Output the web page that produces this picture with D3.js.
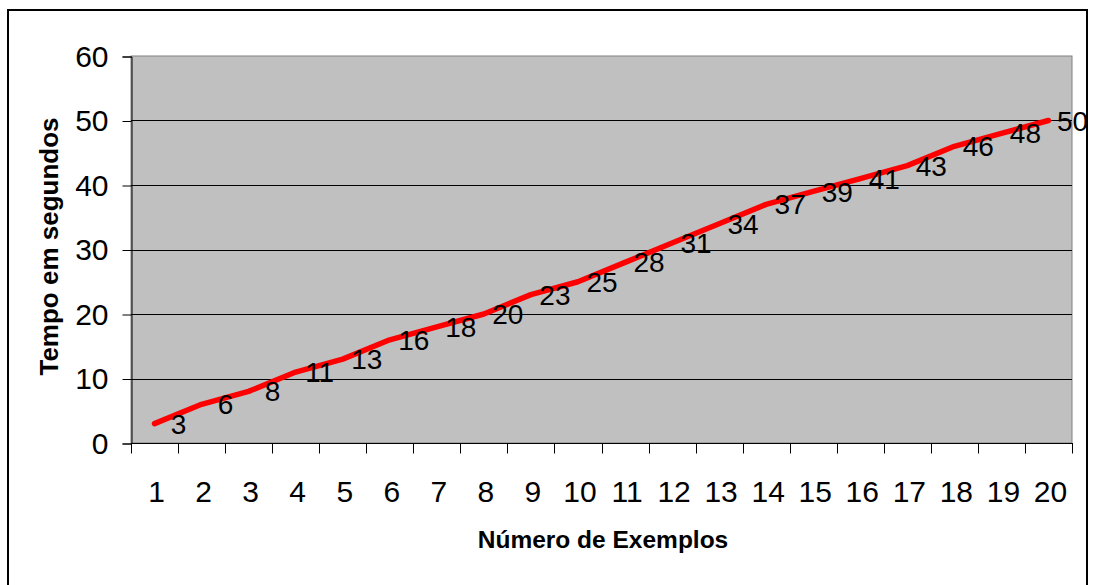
<!DOCTYPE html>
<html>
<head>
<meta charset="utf-8">
<script src="https://cdn.jsdelivr.net/npm/d3@7"></script>
<style>
  html, body { margin: 0; padding: 0; background: #fff; }
  svg { display: block; font-family: Arial, "Liberation Sans", sans-serif; }
</style>
</head>
<body>
<svg id="chart" width="1093" height="585"></svg>
<script>
// Tempo de execução por número de exemplos
const categories = ["1","2","3","4","5","6","7","8","9","10","11","12","13","14","15","16","17","18","19","20"];
const tempos = [3, 6, 8, 11, 13, 16, 18, 20, 23, 25, 28, 31, 34, 37, 39, 41, 43, 46, 48, 50];
const yTicks = [0, 10, 20, 30, 40, 50, 60];

const svg = d3.select("#chart");
const plot = { left: 131, right: 1072, top: 56, bottom: 443 };

// outer frame
svg.append("rect")
  .attr("x", 8).attr("y", 10)
  .attr("width", 1079).attr("height", 590)
  .attr("fill", "#fff").attr("stroke", "#000").attr("stroke-width", 2);

const x = d3.scaleBand().domain(categories).range([plot.left, plot.right]).padding(0);
const y = d3.scaleLinear().domain([0, 60]).range([plot.bottom, plot.top]);

// plot area
svg.append("rect")
  .attr("x", plot.left).attr("y", plot.top)
  .attr("width", plot.right - plot.left).attr("height", plot.bottom - plot.top)
  .attr("fill", "#c0c0c0").attr("stroke", "#808080").attr("stroke-width", 1);

// gridlines
svg.append("g")
  .selectAll("line")
  .data(yTicks.filter(t => t > 0 && t < 60))
  .join("line")
  .attr("x1", plot.left).attr("x2", plot.right)
  .attr("y1", d => Math.round(y(d)) + 0.5).attr("y2", d => Math.round(y(d)) + 0.5)
  .attr("stroke", "#000").attr("stroke-width", 1);

// y axis
const yAxis = svg.append("g")
  .attr("transform", `translate(${plot.left + 0.5},0.5)`)
  .call(d3.axisLeft(y).tickValues(yTicks).tickSize(9).tickPadding(14).tickFormat(d3.format("d")));
yAxis.select(".domain").attr("stroke", "#000");
yAxis.selectAll(".tick line").attr("stroke", "#000");
yAxis.selectAll("text")
  .attr("font-size", 30).attr("fill", "#000")
  .attr("font-family", "Arial, 'Liberation Sans', sans-serif");

// x axis: ticks between categories
const xAxisG = svg.append("g").attr("transform", `translate(0,${plot.bottom + 0.5})`);
xAxisG.append("line")
  .attr("x1", plot.left).attr("x2", plot.right + 1)
  .attr("stroke", "#000");
const bounds = categories.map(c => x(c)).concat([x(categories[categories.length - 1]) + x.bandwidth()]);
xAxisG.selectAll("line.tick")
  .data(bounds)
  .join("line").attr("class", "tick")
  .attr("x1", d => Math.round(d) + 0.5).attr("x2", d => Math.round(d) + 0.5)
  .attr("y1", 0).attr("y2", 10)
  .attr("stroke", "#000");
xAxisG.selectAll("text")
  .data(categories)
  .join("text")
  .attr("x", d => x(d) + x.bandwidth() / 2 + 2)
  .attr("y", 58)
  .attr("text-anchor", "middle")
  .attr("font-size", 30)
  .attr("fill", "#000")
  .text(d => d);

// series line
const line = d3.line()
  .x((d, i) => x(categories[i]) + x.bandwidth() / 2)
  .y(d => y(d));
svg.append("path")
  .datum(tempos)
  .attr("d", line)
  .attr("fill", "none")
  .attr("stroke", "#ff0000")
  .attr("stroke-width", 5.5)
  .attr("stroke-linejoin", "round")
  .attr("stroke-linecap", "round");

// value labels
svg.append("g")
  .selectAll("text")
  .data(tempos)
  .join("text")
  .attr("x", (d, i) => x(categories[i]) + x.bandwidth() / 2 + 24)
  .attr("y", d => y(d))
  .attr("dy", "0.36em")
  .attr("text-anchor", "middle")
  .attr("font-size", 28)
  .attr("fill", "#000")
  .text(d => d);

// axis titles
svg.append("text")
  .attr("transform", `translate(58,${(118 + 375) / 2}) rotate(-90)`)
  .attr("text-anchor", "middle")
  .attr("font-size", 26)
  .attr("font-weight", "bold")
  .attr("fill", "#000")
  .text("Tempo em segundos");

svg.append("text")
  .attr("x", 603)
  .attr("y", 548)
  .attr("text-anchor", "middle")
  .attr("font-size", 24.5)
  .attr("font-weight", "bold")
  .attr("fill", "#000")
  .text("Número de Exemplos");
</script>
</body>
</html>
